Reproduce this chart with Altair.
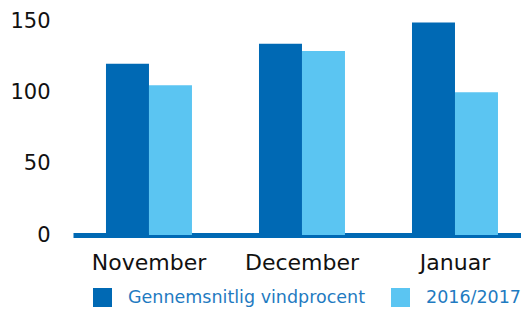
import altair as alt
import pandas as pd

months = ["November", "December", "Januar"]
series = ["Gennemsnitlig vindprocent", "2016/2017"]
avg_values = [120, 134, 149]
season_values = [105, 129, 100]

rows = []
for m, a, s in zip(months, avg_values, season_values):
    rows.append({"month": m, "series": series[0], "value": a})
    rows.append({"month": m, "series": series[1], "value": s})
df = pd.DataFrame(rows)

font = "DejaVu Sans"

chart = alt.Chart(df).mark_bar().encode(
    x=alt.X("month:N", sort=months, title=None,
            scale=alt.Scale(paddingInner=0.438, paddingOuter=0.183, align=0.589),
            axis=alt.Axis(labelAngle=0, domainColor="#0069b4", domainWidth=5,
                          ticks=False, labelFontSize=22, labelFont=font,
                          labelColor="#111111", labelPadding=17)),
    xOffset=alt.XOffset("series:N", sort=series),
    y=alt.Y("value:Q", title=None,
            scale=alt.Scale(domain=[0, 150], nice=False),
            axis=alt.Axis(values=[0, 50, 100, 150], grid=False, domain=False,
                          ticks=False, labelFontSize=21, labelFont=font,
                          labelColor="#111111", labelPadding=23)),
    color=alt.Color("series:N", sort=series,
                    scale=alt.Scale(domain=series, range=["#0069b4", "#5bc5f2"]),
                    legend=alt.Legend(title=None, orient="none", direction="horizontal",
                                      legendX=20, legendY=267, symbolType="square",
                                      symbolSize=361, symbolStrokeWidth=0,
                                      labelFontSize=17.5, labelFont=font,
                                      labelColor="#1f7bc1", labelOffset=16,
                                      columnPadding=25, labelLimit=400, padding=0)),
).properties(
    width=448, height=214,
    autosize=alt.AutoSizeParams(type="none"),
    padding={"left": 65, "top": 13, "right": 0, "bottom": 80},
).configure_view(stroke=None)

chart.save("out.html", embed_options={"renderer": "svg", "actions": False})
